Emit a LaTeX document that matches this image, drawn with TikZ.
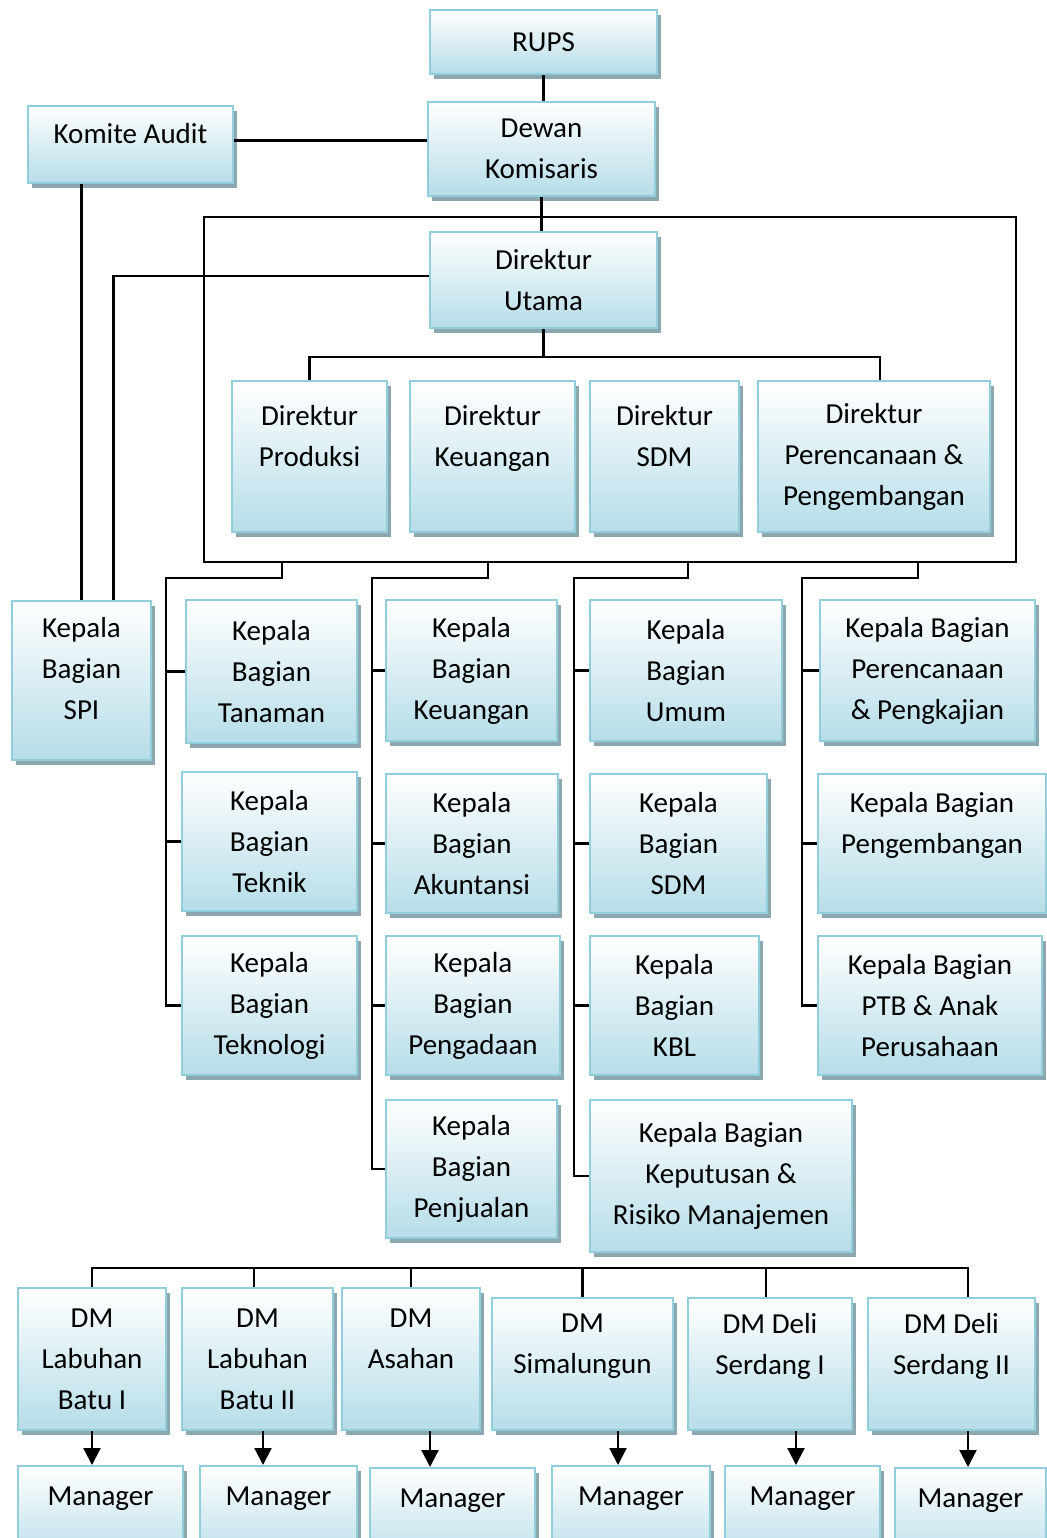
\documentclass[tikz,border=0pt]{standalone}
\usepackage{fontspec}
\setmainfont{Carlito}
\usetikzlibrary{shadows,arrows.meta}
\definecolor{boxline}{RGB}{146,205,220}
\definecolor{boxbot}{RGB}{182,221,232}
\definecolor{boxshade}{RGB}{141,167,176}

\begin{document}
\begin{tikzpicture}[x=1pt,y=-1pt,
		boxbase/.style={draw=boxline, line width=2pt, top color=white, bottom color=boxbot, inner sep=0pt,
			font=\fontsize{29}{41}\selectfont,
			drop shadow={shadow xshift=4pt, shadow yshift=-5pt, fill=boxshade, opacity=1}},
		box/.style={boxbase, align=center},
		link/.style={line width=2.2pt},
		down/.style={line width=2.2pt, -{Triangle[width=17pt,length=17pt]}}]
			%\draw [help lines] (0,0) grid (1046,1538);
			\useasboundingbox (0,0) rectangle (1046,1538);

			\node[box, minimum width=227pt, minimum height=64pt] (rups) at (543.5,42) {RUPS};
			\node[box, minimum width=227pt, minimum height=94pt] (dewan) at (541.5,149) {Dewan\\Komisaris};
			\node[boxbase, minimum width=205pt, minimum height=77pt, text height=20pt, text depth=22pt] (komite) at (130.5,144.5) {Komite Audit};
			\node[box, minimum width=227pt, minimum height=96pt] (utama) at (543.5,280) {Direktur\\Utama};

			\node[box, minimum width=155pt, minimum height=151pt] (dprod) at (309.5,456.5) {Direktur\\Produksi\\~};
			\node[box, minimum width=165pt, minimum height=151pt] (dkeu) at (492.5,456.5) {Direktur\\Keuangan\\~};
			\node[box, minimum width=149pt, minimum height=151pt] (dsdm) at (664.5,456.5) {Direktur\\SDM\\~};
			\node[box, minimum width=232pt, minimum height=151pt] (drenbang) at (874,456.5) {Direktur\\Perencanaan \&\\Pengembangan};

			\node[box, minimum width=139pt, minimum height=159pt] (spi) at (81.5,680.5) {Kepala\\Bagian\\SPI\\[-16pt]~};
			\node[box, minimum width=171pt, minimum height=143pt] (tanaman) at (271.5,671.5) {Kepala\\Bagian\\Tanaman};
			\node[box, minimum width=171pt, minimum height=141pt] (keuangan) at (471.5,670.5) {Kepala\\Bagian\\Keuangan};
			\node[box, minimum width=192pt, minimum height=141pt] (umum) at (686,670.5) {Kepala\\Bagian\\Umum};
			\node[box, minimum width=215pt, minimum height=141pt] (renkaji) at (927.5,670.5) {Kepala Bagian\\Perencanaan\\\& Pengkajian};

			\node[box, minimum width=175pt, minimum height=139pt] (teknik) at (269.5,841.5) {Kepala\\Bagian\\Teknik};
			\node[box, minimum width=172pt, minimum height=139pt] (akuntansi) at (472,843.5) {Kepala\\Bagian\\Akuntansi};
			\node[box, minimum width=177pt, minimum height=139pt] (sdm) at (678.5,843.5) {Kepala\\Bagian\\SDM};
			\node[box, minimum width=228pt, minimum height=139pt] (pengembangan) at (932,843.5) {Kepala Bagian\\Pengembangan\\~};

			\node[box, minimum width=175pt, minimum height=139pt] (teknologi) at (269.5,1005.5) {Kepala\\Bagian\\Teknologi};
			\node[box, minimum width=174pt, minimum height=139pt] (pengadaan) at (473,1005.5) {Kepala\\Bagian\\Pengadaan};
			\node[box, minimum width=169pt, minimum height=139pt] (kbl) at (674.5,1005.5) {Kepala\\Bagian\\KBL};
			\node[box, minimum width=224pt, minimum height=139pt] (ptb) at (930,1005.5) {Kepala Bagian\\PTB \& Anak\\Perusahaan};

			\node[box, minimum width=171pt, minimum height=138pt] (penjualan) at (471.5,1169) {Kepala\\Bagian\\Penjualan};
			\node[box, minimum width=262pt, minimum height=152pt] (keputusan) at (721,1176) {Kepala Bagian\\Keputusan \&\\Risiko Manajemen};

			\node[box, minimum width=148pt, minimum height=142pt] (dm1) at (92,1359) {DM\\Labuhan\\Batu I};
			\node[box, minimum width=151pt, minimum height=142pt] (dm2) at (257.5,1359) {DM\\Labuhan\\Batu II};
			\node[box, minimum width=138pt, minimum height=142pt] (dm3) at (411,1359) {DM\\Asahan\\~};
			\node[box, minimum width=181pt, minimum height=132pt] (dm4) at (582.5,1364) {DM\\Simalungun\\~};
			\node[box, minimum width=164pt, minimum height=132pt] (dm5) at (770,1364) {DM Deli\\Serdang I\\~};
			\node[box, minimum width=167pt, minimum height=132pt] (dm6) at (951.5,1364) {DM Deli\\Serdang II\\~};

			\node[boxbase, minimum width=165pt, minimum height=98pt, text height=20pt, text depth=40pt] (m1) at (100.5,1515) {Manager};
			\node[boxbase, minimum width=157pt, minimum height=98pt, text height=20pt, text depth=40pt] (m2) at (278.5,1515) {Manager};
			\node[boxbase, minimum width=165pt, minimum height=98pt, text height=20pt, text depth=40pt] (m3) at (452.5,1517) {Manager};
			\node[boxbase, minimum width=158pt, minimum height=98pt, text height=20pt, text depth=40pt] (m4) at (631,1515) {Manager};
			\node[boxbase, minimum width=155pt, minimum height=98pt, text height=20pt, text depth=40pt] (m5) at (802.5,1515) {Manager};
			\node[boxbase, minimum width=151pt, minimum height=98pt, text height=20pt, text depth=40pt] (m6) at (970.5,1517) {Manager};

			\coordinate (frameNW) at (204,217);
			\coordinate (frameSE) at (1016,562);
			\coordinate (dirbus) at (543.5,357);
			\coordinate (d1) at (282,562);
			\coordinate (d2) at (488,562);
			\coordinate (d3) at (688,562);
			\coordinate (d4) at (918,562);
			\coordinate (b1) at (166,578);
			\coordinate (b2) at (372,578);
			\coordinate (b3) at (574,578);
			\coordinate (b4) at (802,578);
			\coordinate (dmbus) at (93,1268);

			\draw[link] (rups.south) -- (rups.south |- dewan.north);
			\coordinate (komR) at ([yshift=4pt]komite.east);
			\draw[link] (komR) -- (komR -| dewan.west);
			\draw[link] (dewan.south) -- (dewan.south |- utama.north);
			\draw[link] (frameNW) rectangle (frameSE);
			\coordinate (utamaL) at ([yshift=4pt]utama.west);
			\coordinate (spiR) at ([xshift=32pt]spi.north);
			\draw[link] (utamaL) -| (spiR);
			\draw[link] (spi.north) -- (spi.north |- komite.south);
			\coordinate (drenR) at ([xshift=6pt]drenbang.north);
			\draw[link] (utama.south) -- (dirbus);
			\draw[link] (dprod.north) |- (dirbus) -| (drenR);

			\draw[link] (d1) |- (b1) |- (teknologi.west);
			\draw[link] (b1 |- tanaman.west) -- (tanaman.west);
			\draw[link] (b1 |- teknik.west) -- (teknik.west);

			\draw[link] (d2) |- (b2) |- (penjualan.west);
			\draw[link] (b2 |- keuangan.west) -- (keuangan.west);
			\draw[link] (b2 |- akuntansi.west) -- (akuntansi.west);
			\draw[link] (b2 |- pengadaan.west) -- (pengadaan.west);

			\draw[link] (d3) |- (b3) |- (keputusan.west);
			\draw[link] (b3 |- umum.west) -- (umum.west);
			\draw[link] (b3 |- sdm.west) -- (sdm.west);
			\draw[link] (b3 |- kbl.west) -- (kbl.west);

			\draw[link] (d4) |- (b4) |- (ptb.west);
			\draw[link] (b4 |- renkaji.west) -- (renkaji.west);
			\draw[link] (b4 |- pengembangan.west) -- (pengembangan.west);

			\coordinate (t2) at ([xshift=-3.5pt]dm2.north);
			\coordinate (t5) at ([xshift=-4pt]dm5.north);
			\coordinate (t6) at ([xshift=16.5pt]dm6.north);
			\draw[link] (dm1.north) |- (t6 |- dmbus) -- (t6);
			\draw[link] (t2 |- dmbus) -- (t2);
			\draw[link] (dm3.north |- dmbus) -- (dm3.north);
			\draw[link] (dm4.north |- dmbus) -- (dm4.north);
			\draw[link] (t5 |- dmbus) -- (t5);

			\coordinate (a2) at ([xshift=5.5pt]dm2.south);
			\coordinate (a3) at ([xshift=19pt]dm3.south);
			\coordinate (a4) at ([xshift=35.5pt]dm4.south);
			\coordinate (a5) at ([xshift=26pt]dm5.south);
			\coordinate (a6) at ([xshift=16.5pt]dm6.south);
			\draw[down] (dm1.south) -- (dm1.south |- m1.north);
			\draw[down] (a2) -- (a2 |- m2.north);
			\draw[down] (a3) -- (a3 |- m3.north);
			\draw[down] (a4) -- (a4 |- m4.north);
			\draw[down] (a5) -- (a5 |- m5.north);
			\draw[down] (a6) -- (a6 |- m6.north);
		\end{tikzpicture}
\end{document}
